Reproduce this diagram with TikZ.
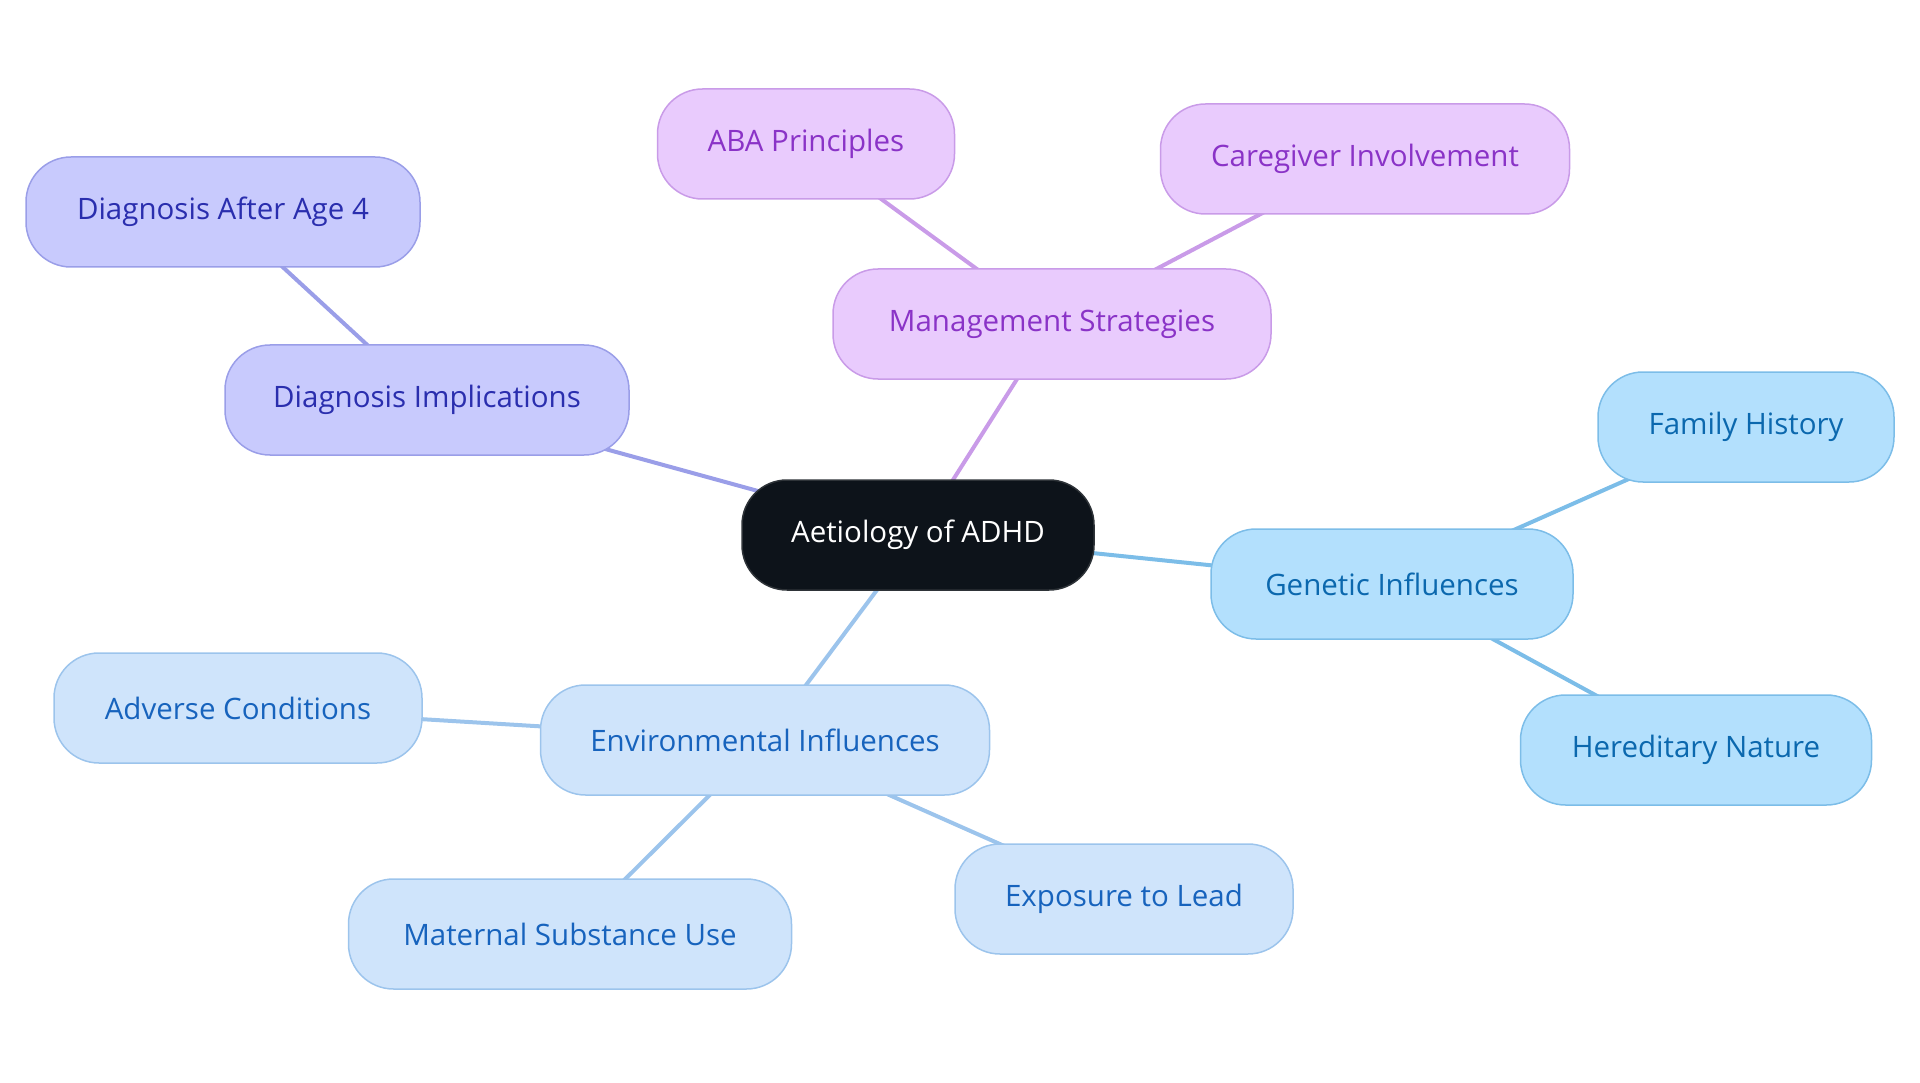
\documentclass[tikz,border=0pt]{standalone}
\usepackage{fontspec}
\setmainfont{Open Sans}
\usetikzlibrary{backgrounds}
\definecolor{rootfill}{HTML}{0D131A}
\definecolor{rootline}{HTML}{2E3338}
\definecolor{genfill}{HTML}{B3E0FD}
\definecolor{genline}{HTML}{7CBDE8}
\definecolor{gentext}{HTML}{0B68AE}
\definecolor{envfill}{HTML}{CFE4FB}
\definecolor{envline}{HTML}{9CC4EC}
\definecolor{envtext}{HTML}{1763BD}
\definecolor{manfill}{HTML}{E9CBFD}
\definecolor{manline}{HTML}{C99BE8}
\definecolor{mantext}{HTML}{8A33C7}
\definecolor{diafill}{HTML}{C8CAFD}
\definecolor{dialine}{HTML}{9A9EE8}
\definecolor{diatext}{HTML}{2A2EAE}
\tikzset{
  mm/.style={rounded corners=45pt, minimum height=110pt, inner xsep=0pt, line width=1.5pt, font=\fontsize{29.5}{34}\selectfont},
  rootnode/.style={mm, fill=rootfill, draw=rootline, text=white},
  gennode/.style={mm, fill=genfill, draw=genline, text=gentext},
  envnode/.style={mm, fill=envfill, draw=envline, text=envtext},
  mannode/.style={mm, fill=manfill, draw=manline, text=mantext},
  dianode/.style={mm, fill=diafill, draw=dialine, text=diatext},
  link/.style={line width=4pt}
}
\begin{document}
\begin{tikzpicture}[x=1pt,y=-1pt]
\useasboundingbox (0,0) rectangle (1920,1083);
\node[rootnode, minimum width=352pt] (root) at (918,535) {Aetiology of ADHD};
\node[gennode, minimum width=362pt] (gen) at (1392,584) {Genetic Influences};
\node[gennode, minimum width=296pt] (fam) at (1746,427) {Family History};
\node[gennode, minimum width=351pt] (her) at (1696,750) {Hereditary Nature};
\node[mannode, minimum width=438pt] (man) at (1052,324) {Management Strategies};
\node[mannode, minimum width=297pt] (aba) at (806,144) {ABA Principles};
\node[mannode, minimum width=409pt] (care) at (1365,159) {Caregiver Involvement};
\node[dianode, minimum width=404pt] (dimp) at (427,400) {Diagnosis Implications};
\node[dianode, minimum width=394pt] (dage) at (223,212) {Diagnosis After Age 4};
\node[envnode, minimum width=449pt] (env) at (765,740) {Environmental Influences};
\node[envnode, minimum width=368pt] (adv) at (238,708) {Adverse Conditions};
\node[envnode, minimum width=443pt] (mat) at (570,934) {Maternal Substance Use};
\node[envnode, minimum width=338pt] (lead) at (1124,899) {Exposure to Lead};
\begin{scope}[on background layer]
\draw[link, draw=genline] (root.center) -- (gen.center);
\draw[link, draw=genline] (gen.center) -- (fam.center);
\draw[link, draw=genline] (gen.center) -- (her.center);
\draw[link, draw=manline] (root.center) -- (man.center);
\draw[link, draw=manline] (man.center) -- (aba.center);
\draw[link, draw=manline] (man.center) -- (care.center);
\draw[link, draw=dialine] (root.center) -- (dimp.center);
\draw[link, draw=dialine] (dimp.center) -- (dage.center);
\draw[link, draw=envline] (root.center) -- (env.center);
\draw[link, draw=envline] (env.center) -- (adv.center);
\draw[link, draw=envline] (env.center) -- (mat.center);
\draw[link, draw=envline] (env.center) -- (lead.center);
\end{scope}
\end{tikzpicture}
\end{document}
